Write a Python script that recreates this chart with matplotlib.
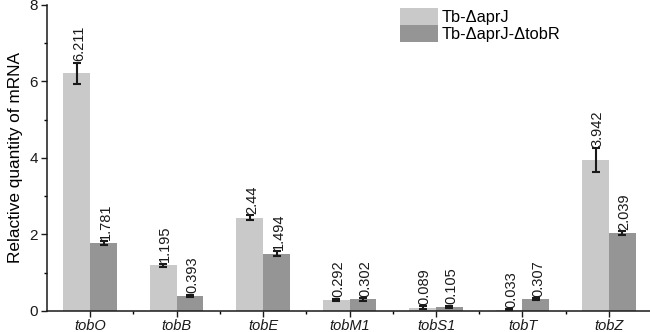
import matplotlib.pyplot as plt
from matplotlib.ticker import MultipleLocator, FixedLocator
import numpy as np

plt.rcParams['font.family'] = ['Liberation Sans', 'DejaVu Sans']

genes = ['tobO', 'tobB', 'tobE', 'tobM1', 'tobS1', 'tobT', 'tobZ']
aprJ = [6.211, 1.195, 2.44, 0.292, 0.089, 0.033, 3.942]
aprJ_err = [0.28, 0.04, 0.06, 0.03, 0.03, 0.02, 0.31]
tobR = [1.781, 0.393, 1.494, 0.302, 0.105, 0.307, 2.039]
tobR_err = [0.05, 0.03, 0.07, 0.03, 0.03, 0.03, 0.05]
series_names = ['Tb-ΔaprJ', 'Tb-ΔaprJ-ΔtobR']

light = '#c9c9c9'
dark = '#959595'

fig = plt.figure(figsize=(6.5, 3.32), dpi=100)
ax = fig.add_axes([0.0723, 0.0633, 0.931, 0.922])

x = np.arange(len(genes))
w = 0.31
ax.bar(x - w / 2, aprJ, w, color=light, label=series_names[0])
ax.bar(x + w / 2, tobR, w, color=dark, label=series_names[1])
ax.errorbar(x - w / 2, aprJ, yerr=aprJ_err, fmt='none', ecolor='#1a1a1a',
            elinewidth=1.5, capsize=3, capthick=1.5)
ax.errorbar(x + w / 2, tobR, yerr=tobR_err, fmt='none', ecolor='#1a1a1a',
            elinewidth=1.5, capsize=3, capthick=1.5)

# value labels sit on top of the error bars
for xs, vals, errs in [(x - w / 2, aprJ, aprJ_err), (x + w / 2, tobR, tobR_err)]:
    for xi, v, e in zip(xs, vals, errs):
        ax.annotate(f'{v:g}', (xi, v + e), xytext=(1.5, 1), textcoords='offset points',
                    rotation=90, ha='center', va='bottom', fontsize=10.5,
                    color='#1a1a1a')

ax.set_xlim(-0.5, 6.5)
ax.set_ylim(0, 8)
ax.set_xticks(x)
ax.set_xticklabels(genes, fontstyle='italic', fontsize=10.5)
ax.xaxis.set_minor_locator(FixedLocator(np.arange(0.5, 6.5, 1)))
ax.yaxis.set_major_locator(MultipleLocator(2))
ax.yaxis.set_minor_locator(MultipleLocator(1))
ax.tick_params(axis='both', which='major', direction='out', length=4.5, width=1,
               colors='#1a1a1a')
ax.tick_params(axis='y', which='major', labelsize=11, pad=2)
ax.tick_params(axis='x', which='major', pad=1.5)
ax.tick_params(axis='both', which='minor', direction='out', length=2.5, width=1)
ax.set_ylabel('Relactive quantity of mRNA', fontsize=12.4, labelpad=5)

for s in ['top', 'right']:
    ax.spines[s].set_visible(False)
for s in ['left', 'bottom']:
    ax.spines[s].set_linewidth(1.1)
    ax.spines[s].set_color('#1a1a1a')

ax.legend(loc='upper left', bbox_to_anchor=(400 / 650, 1 - 8 / 332),
          bbox_transform=fig.transFigure, frameon=False, fontsize=11.8,
          handlelength=2.3, handleheight=1.2, labelspacing=0,
          handletextpad=0.25, borderpad=0, borderaxespad=0)

fig.savefig('out.png', dpi=100)
